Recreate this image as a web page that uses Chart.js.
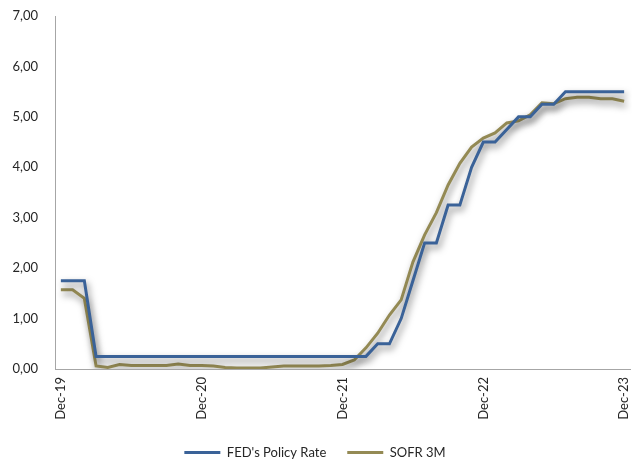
<!DOCTYPE html>
<html>
<head>
<meta charset="utf-8">
<script src="https://cdn.jsdelivr.net/npm/chart.js@4/dist/chart.umd.min.js"></script>
<style>
  html, body { margin: 0; padding: 0; background: #fff; }
  #wrap { width: 632px; height: 461px; }
</style>
</head>
<body>
<div id="wrap"><canvas id="rates" width="632" height="461"></canvas></div>
<script>
// monthly observations, Dec-19 .. Dec-23
const months = [
  "Dec-19", "Jan-20", "Feb-20", "Mar-20", "Apr-20", "May-20", "Jun-20", "Jul-20", "Aug-20", "Sep-20", "Oct-20", "Nov-20",
  "Dec-20", "Jan-21", "Feb-21", "Mar-21", "Apr-21", "May-21", "Jun-21", "Jul-21", "Aug-21", "Sep-21", "Oct-21", "Nov-21",
  "Dec-21", "Jan-22", "Feb-22", "Mar-22", "Apr-22", "May-22", "Jun-22", "Jul-22", "Aug-22", "Sep-22", "Oct-22", "Nov-22",
  "Dec-22", "Jan-23", "Feb-23", "Mar-23", "Apr-23", "May-23", "Jun-23", "Jul-23", "Aug-23", "Sep-23", "Oct-23", "Nov-23",
  "Dec-23"
];

const fedRate = [
  1.75, 1.75, 1.75, 0.25, 0.25, 0.25, 0.25, 0.25, 0.25, 0.25, 0.25, 0.25,
  0.25, 0.25, 0.25, 0.25, 0.25, 0.25, 0.25, 0.25, 0.25, 0.25, 0.25, 0.25,
  0.25, 0.25, 0.25, 0.50, 0.50, 1.00, 1.75, 2.50, 2.50, 3.25, 3.25, 4.00,
  4.50, 4.50, 4.75, 5.00, 5.00, 5.25, 5.25, 5.50, 5.50, 5.50, 5.50, 5.50,
  5.50
];

const sofr3m = [
  1.57, 1.57, 1.40, 0.06, 0.03, 0.09, 0.07, 0.07, 0.07, 0.07, 0.10, 0.07,
  0.07, 0.06, 0.03, 0.02, 0.02, 0.02, 0.04, 0.06, 0.06, 0.06, 0.06, 0.07,
  0.09, 0.18, 0.42, 0.71, 1.07, 1.37, 2.12, 2.66, 3.10, 3.65, 4.08, 4.40,
  4.58, 4.68, 4.88, 4.92, 5.04, 5.28, 5.26, 5.36, 5.39, 5.39, 5.36, 5.36,
  5.31
];

const yTicks = [0, 1, 2, 3, 4, 5, 6, 7];

const font = { family: "Lato, 'Liberation Sans', sans-serif", size: 13 };
const textColor = "#262626";
const axisColor = "#a6a6a6";

// soft drop shadow under each line
const lineShadow = {
  id: "lineShadow",
  beforeDatasetDraw(chart) {
    const ctx = chart.ctx;
    ctx.save();
    ctx.shadowColor = "rgba(0,0,0,0.5)";
    ctx.shadowBlur = 7;
    ctx.shadowOffsetX = 2;
    ctx.shadowOffsetY = 4;
  },
  afterDatasetDraw(chart) {
    chart.ctx.restore();
  }
};

new Chart(document.getElementById("rates"), {
  type: "line",
  data: {
    labels: months,
    datasets: [
      {
        label: "FED's Policy Rate",
        data: fedRate,
        borderColor: "#3a6298",
        backgroundColor: "#3a6298",
        borderWidth: 3,
        pointRadius: 0,
        tension: 0
      },
      {
        label: "SOFR 3M",
        data: sofr3m,
        borderColor: "#948a54",
        backgroundColor: "#948a54",
        borderWidth: 3,
        pointRadius: 0,
        tension: 0
      }
    ]
  },
  options: {
    responsive: false,
    animation: false,
    layout: { padding: { left: 0, right: 2, top: 16, bottom: -8 } },
    plugins: {
      tooltip: { enabled: false },
      legend: {
        position: "bottom",
        labels: {
          usePointStyle: true,
          pointStyle: "line",
          pointStyleWidth: 36,
          color: textColor,
          font: font,
          padding: 21
        }
      }
    },
    scales: {
      x: {
        offset: true,
        grid: { display: false, drawTicks: false },
        border: { color: axisColor, width: 1 },
        ticks: {
          autoSkip: false,
          maxRotation: 90,
          minRotation: 90,
          color: textColor,
          font: font,
          padding: 8,
          callback: (v, i) => (i % 12 === 0 ? months[i] : "")
        },
        afterFit: (scale) => {
          scale.height = 56;
          scale.paddingLeft = 0;
          scale.paddingRight = 0;
        }
      },
      y: {
        min: 0,
        max: 7,
        grid: { display: false, drawTicks: false },
        border: { color: axisColor, width: 1 },
        afterBuildTicks: (axis) => { axis.ticks = yTicks.map(v => ({ value: v })); },
        ticks: {
          color: textColor,
          font: font,
          padding: 17,
          callback: (v) => v.toFixed(2).replace(".", ",")
        },
        afterFit: (scale) => {
          scale.width = 55;
          scale.paddingTop = 0;
          scale.paddingBottom = 0;
        }
      }
    }
  },
  plugins: [lineShadow]
});
</script>
</body>
</html>
